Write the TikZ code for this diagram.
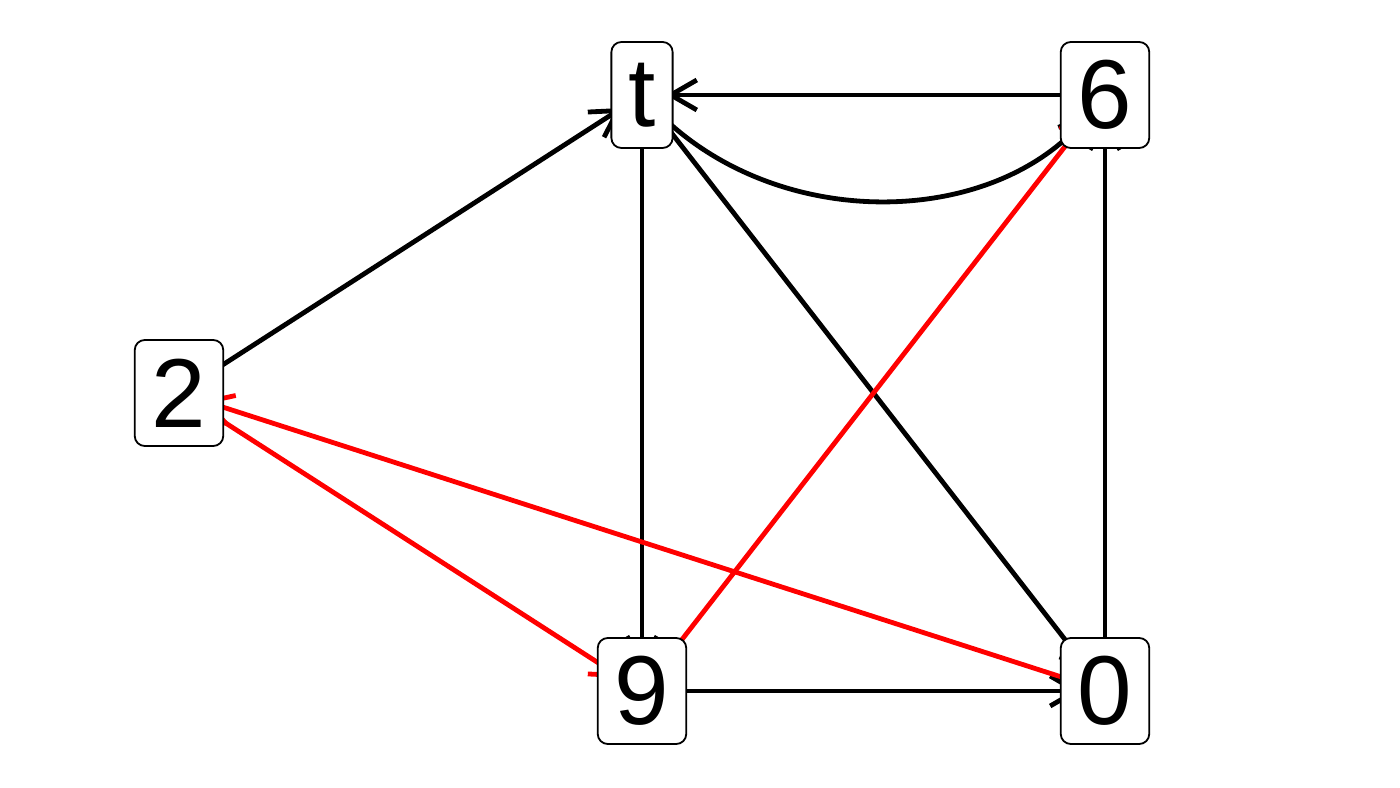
\documentclass[tikz,border=0pt]{standalone}
\usepackage{fontspec}
\setmainfont{Liberation Sans}
\usetikzlibrary{arrows.meta, backgrounds}

\begin{document}
\begin{tikzpicture}[
    x=1pt, y=1pt,
    vert/.style={rectangle, draw, rounded corners=10pt, line width=1.8pt, fill=white, minimum height=106pt, inner xsep=17pt, inner ysep=0pt, font=\fontsize{98}{98}\selectfont},
    arr/.style={-{Straight Barb[length=26pt, width=30pt]}, line width=4.8pt, shorten >=24pt},
    redarr/.style={arr, red}
]
    \useasboundingbox (0,0) rectangle (1400,787);

    % Knoten
    \node[vert] (t) at (642,692) {t};
    \node[vert] (6) at (1105,692) {6};
    \node[vert] (2) at (179,394) {2};
    \node[vert] (9) at (642,96) {9};
    \node[vert] (0) at (1105,96) {0};

    % Kanten hinter den Knoten
    \begin{pgfonlayer}{background}
        \draw[arr] (2.center) -- (t.center);
        \draw[arr] (6.center) -- (t.center);
        \draw[arr] (t.center) to[bend right=50] (6.center);
        \draw[arr] (t.center) -- (9.center);
        \draw[arr] (t.center) -- (0.center);
        \draw[arr] (0.center) -- (6.center);
        \draw[arr] (9.center) -- (0.center);
        % rote Kanten
        \draw[redarr] (0.center) -- (2.center);
        \draw[redarr] (2.center) -- (9.center);
        \draw[redarr] (9.center) -- (6.center);
    \end{pgfonlayer}
\end{tikzpicture}
\end{document}
